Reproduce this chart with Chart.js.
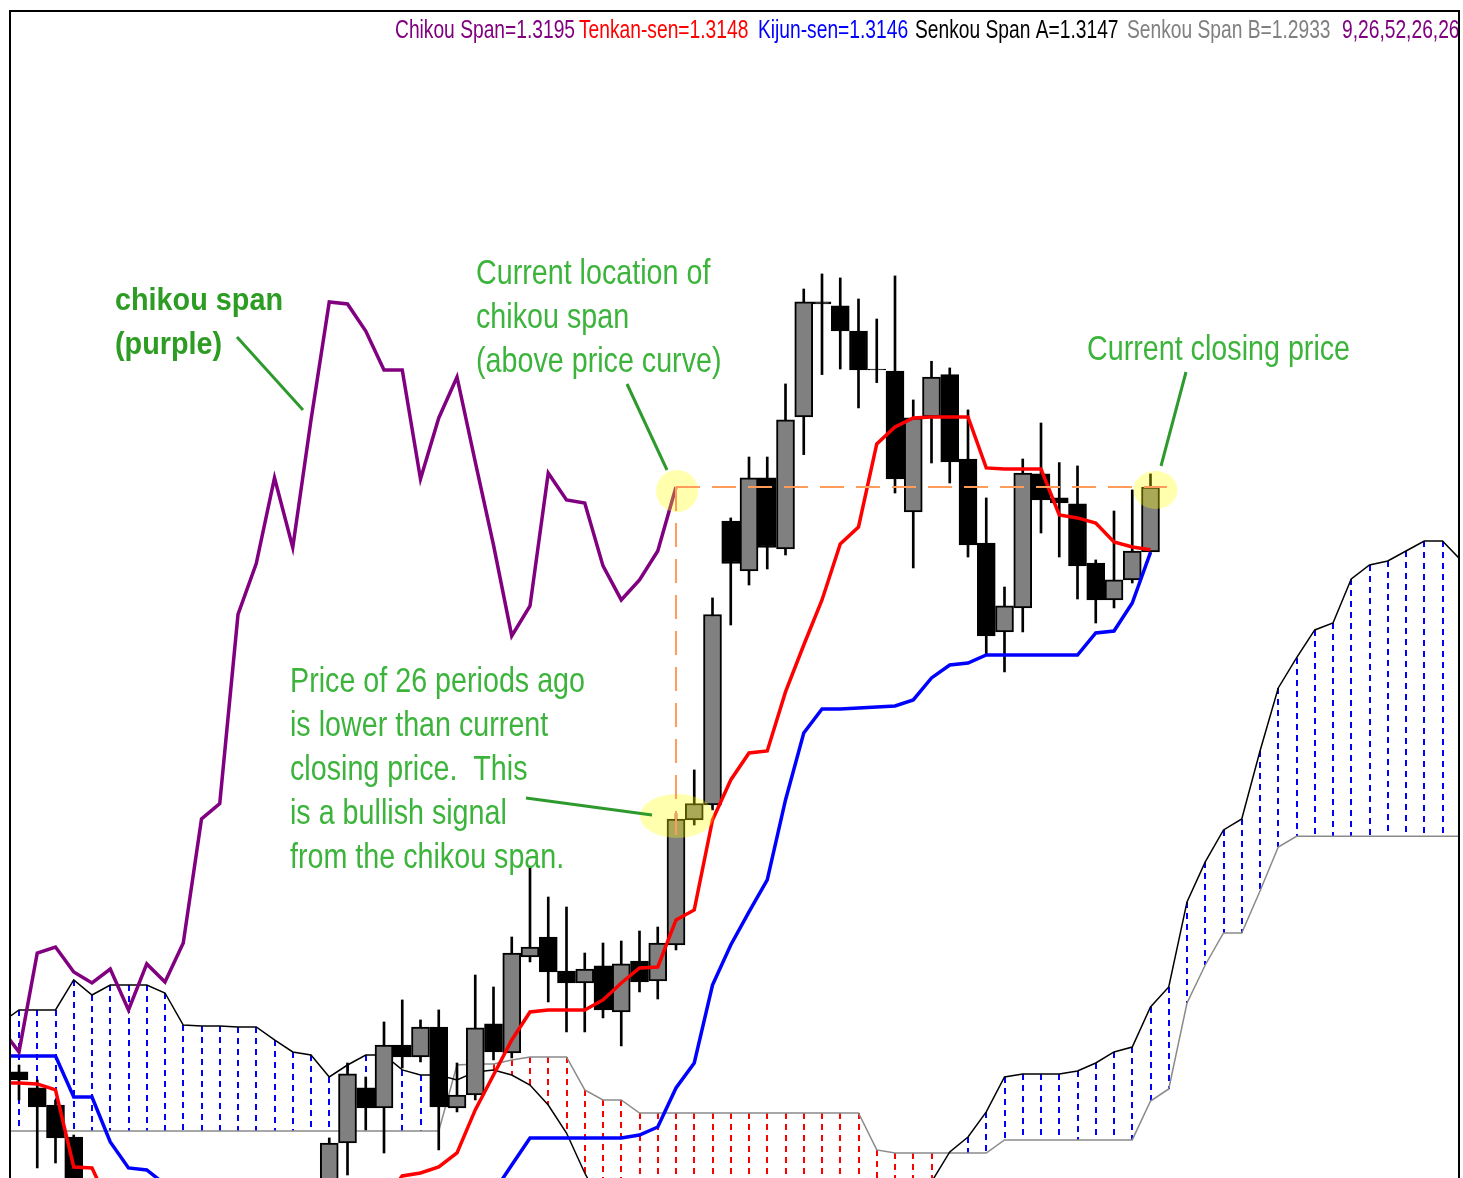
<!DOCTYPE html>
<html>
<head>
<meta charset="utf-8">
<script src="https://cdn.jsdelivr.net/npm/chart.js@4.4.1/dist/chart.umd.min.js"></script>
<style>
  html, body { margin: 0; padding: 0; background: #fff; }
  #wrap { width: 1463px; height: 1178px; }
</style>
</head>
<body>
<div id="wrap"><canvas id="chart1" width="1463" height="1178"></canvas></div>
<script>
// candles, bar 0 .. 62 (62 = current bar)
const opens = [
  1.27563, 1.27443, 1.27315, 1.27075, 1.2660, 1.2650, 1.2638, 1.2626, 1.2632, 1.2620,
  1.2630, 1.2615, 1.2633, 1.2645, 1.2637, 1.2652, 1.2660, 1.2664, 1.2703, 1.27443,
  1.27293, 1.27765, 1.27675, 1.2790, 1.27293, 1.2739, 1.27923, 1.27705, 1.28425, 1.28575,
  1.2832, 1.2823, 1.28358, 1.28013, 1.28395, 1.28245, 1.28515, 1.29453, 1.29565, 1.31695,
  1.3132, 1.32018, 1.31485, 1.32475, 1.33338, 1.33308, 1.3312, 1.32835, 1.3282, 1.31763,
  1.32475, 1.32793, 1.3216, 1.3153, 1.30863, 1.31043, 1.32048, 1.31868, 1.31823, 1.3138,
  1.31103, 1.31253, 1.31463
];
const highs = [
  1.27615, 1.27503, 1.27353, 1.2709, 1.2671, 1.2658, 1.2645, 1.2640, 1.2641, 1.2638,
  1.2635, 1.2640, 1.2652, 1.2653, 1.2660, 1.2668, 1.2672, 1.27068, 1.2763, 1.27525,
  1.27938, 1.28103, 1.27953, 1.28028, 1.2763, 1.2829, 1.2820, 1.28575, 1.2910, 1.28875,
  1.2880, 1.28455, 1.2853, 1.28545, 1.2862, 1.2865, 1.2950, 1.29828, 1.31118, 1.31718,
  1.32175, 1.32175, 1.32723, 1.33435, 1.33548, 1.33518, 1.3336, 1.3321, 1.33533, 1.32603,
  1.32893, 1.32843, 1.32528, 1.31868, 1.3120, 1.3216, 1.3243, 1.32133, 1.32108, 1.31403,
  1.3177, 1.31928, 1.32048
];
const lows = [
  1.27353, 1.26843, 1.2688, 1.26453, 1.2640, 1.2630, 1.2618, 1.2615, 1.2612, 1.2610,
  1.2608, 1.2612, 1.2625, 1.2628, 1.2632, 1.2644, 1.2650, 1.26603, 1.2679, 1.27128,
  1.26955, 1.27593, 1.27638, 1.26978, 1.27263, 1.27353, 1.27653, 1.27668, 1.28388, 1.28088,
  1.27863, 1.27863, 1.27968, 1.27758, 1.28163, 1.2811, 1.28478, 1.29415, 1.29528, 1.30915,
  1.31215, 1.31335, 1.3144, 1.32193, 1.32793, 1.32835, 1.32543, 1.32733, 1.31905, 1.31343,
  1.3213, 1.3198, 1.31425, 1.3069, 1.30563, 1.30863, 1.31605, 1.31425, 1.3111, 1.3093,
  1.31043, 1.3123, 1.3146
];
const closes = [
  1.27503, 1.2730, 1.27068, 1.26603, 1.2650, 1.2638, 1.2626, 1.2632, 1.2620, 1.2630,
  1.2615, 1.2633, 1.2645, 1.2637, 1.2652, 1.2660, 1.2668, 1.2703, 1.27548, 1.27293,
  1.27765, 1.27675, 1.2790, 1.2730, 1.2739, 1.27893, 1.27713, 1.28455, 1.2850, 1.28313,
  1.2823, 1.28335, 1.28028, 1.28373, 1.28238, 1.2853, 1.2946, 1.29576, 1.30994, 1.31376,
  1.32019, 1.31496, 1.32453, 1.33338, 1.33323, 1.3312, 1.32828, 1.32828, 1.3201, 1.32468,
  1.32775, 1.32138, 1.31515, 1.30833, 1.31058, 1.32055, 1.31853, 1.3183, 1.31358, 1.31103,
  1.31253, 1.3147, 1.3195
];

// indicator lines start one bar left of the first candle (bar -1)
const lineStart = -1;

// Tenkan-sen (9) and Kijun-sen (26), bar -1 .. 62
const tenkan = [
  1.2748,
  1.2748, 1.27473, 1.27428, 1.2685, 1.26843, 1.2655, 1.2648, 1.2645, 1.2645, 1.2645,
  1.2645, 1.2645, 1.2645, 1.2645, 1.2645, 1.2645, 1.2645, 1.2648, 1.2650, 1.2655,
  1.2660, 1.26783, 1.26805, 1.2685, 1.26955, 1.27278, 1.2754, 1.27803, 1.28013, 1.28028,
  1.28028, 1.28028, 1.28103, 1.2823, 1.28343, 1.2835, 1.28703, 1.28778, 1.29453, 1.29753,
  1.29955, 1.2997, 1.30413, 1.30765, 1.31103, 1.31523, 1.3165, 1.32273, 1.3240, 1.32468,
  1.32475, 1.32475, 1.32475, 1.32093, 1.32085, 1.32085, 1.32085, 1.3174, 1.31718, 1.3168,
  1.31538, 1.3150, 1.3148
];
const kijun = [
  1.27683,
  1.27683, 1.27683, 1.27683, 1.27375, 1.27375, 1.27038, 1.26843, 1.26828, 1.2672, 1.2655,
  1.2650, 1.2650, 1.2650, 1.2650, 1.2650, 1.2650, 1.2650, 1.2650, 1.2650, 1.2650,
  1.2650, 1.2650, 1.2650, 1.2650, 1.2650, 1.2650, 1.2666, 1.26865, 1.27068, 1.27068,
  1.27068, 1.27068, 1.27068, 1.27068, 1.2709, 1.2715, 1.27443, 1.2763, 1.28215, 1.28515,
  1.28763, 1.29003, 1.29603, 1.30105, 1.30285, 1.30285, 1.30293, 1.3030, 1.30308, 1.30353,
  1.30518, 1.30615, 1.3063, 1.3069, 1.3069, 1.3069, 1.3069, 1.3069, 1.3069, 1.30855,
  1.3087, 1.3108, 1.3146
];

// Chikou span: closes of bars 25 .. 62, drawn 26 bars back (bar -1 .. 36)
const chikou = [
  1.27893, 1.27713, 1.28455, 1.2850, 1.28313, 1.2823, 1.28335, 1.28028, 1.28373, 1.28238,
  1.2853, 1.2946, 1.29576, 1.30994, 1.31376, 1.32019, 1.31496, 1.32453, 1.33338, 1.33323,
  1.3312, 1.32828, 1.32828, 1.3201, 1.32468, 1.32775, 1.32138, 1.31515, 1.30833, 1.31058,
  1.32055, 1.31853, 1.3183, 1.31358, 1.31103, 1.31253, 1.3147, 1.3195
];

// Senkou spans as plotted (shifted 26 ahead), bar -1 .. 80
const senkouA = [
  1.2793,
  1.28028, 1.28028, 1.28028, 1.28253, 1.2814, 1.28215, 1.28215, 1.28215, 1.28155, 1.27915,
  1.27908, 1.27908, 1.2790, 1.2790, 1.27803, 1.27713, 1.2769, 1.27525, 1.27615, 1.2769,
  1.2769, 1.27578, 1.2754, 1.2754, 1.27503, 1.27563, 1.27578, 1.2754, 1.27465, 1.27315,
  1.27105, 1.26805, 1.2655, 1.2645, 1.2640, 1.2640, 1.2640, 1.2640, 1.2640, 1.2640,
  1.2640, 1.2640, 1.2640, 1.2640, 1.2640, 1.2640, 1.2640, 1.2640, 1.2640, 1.2650,
  1.26738, 1.26963, 1.27075, 1.27263, 1.27525, 1.27548, 1.27548, 1.27548, 1.2757, 1.2763,
  1.27713, 1.2775, 1.2805, 1.2820, 1.28838, 1.29138, 1.29378, 1.2946, 1.2997, 1.30443,
  1.30668, 1.30878, 1.3093, 1.3126, 1.31365, 1.31395, 1.3147, 1.31545, 1.31545, 1.31403,
  1.3129
];
const senkouB = [
  1.2712,
  1.2712, 1.2712, 1.2712, 1.2712, 1.2712, 1.2712, 1.2712, 1.2712, 1.2712, 1.2712,
  1.2712, 1.2712, 1.2712, 1.2712, 1.2712, 1.2712, 1.2712, 1.2712, 1.2712, 1.2712,
  1.2712, 1.2712, 1.2712, 1.2712, 1.27615, 1.27623, 1.27623, 1.27653, 1.27675, 1.27675,
  1.27675, 1.27428, 1.27353, 1.27353, 1.27255, 1.27255, 1.27255, 1.27255, 1.27255, 1.27255,
  1.27255, 1.27255, 1.27255, 1.27255, 1.27255, 1.27255, 1.27255, 1.26978, 1.26955, 1.26955,
  1.26955, 1.26955, 1.26955, 1.26955, 1.27053, 1.27053, 1.27053, 1.27053, 1.27053, 1.27053,
  1.27053, 1.27053, 1.27345, 1.27435, 1.2808, 1.28365, 1.28605, 1.28605, 1.2892, 1.2925,
  1.2933, 1.2933, 1.2933, 1.2933, 1.2933, 1.2933, 1.2933, 1.2933, 1.2933, 1.2933,
  1.2933
];

// visible window
const xMin = -0.4932, xMax = 78.904;
const yMin = 1.267675, yMax = 1.3552;

const lastBar = closes.length - 1;
const chikouStart = lastBar - 26 - (chikou.length - 1);
const pts = (arr, start) => arr.map((v, i) => ({ x: i + start, y: v }));

// cloud hatching: dashed verticals between the two senkou lines
const cloudHatch = {
  id: 'cloudHatch',
  beforeDatasetsDraw(chart) {
    const { ctx, chartArea: a, scales: { x, y } } = chart;
    ctx.save();
    ctx.beginPath();
    ctx.rect(a.left, a.top, a.width, a.height);
    ctx.clip();
    ctx.lineWidth = 2;
    ctx.setLineDash([6, 5]);
    senkouA.forEach((va, i) => {
      const vb = senkouB[i];
      const px = Math.round(x.getPixelForValue(i + lineStart));
      ctx.strokeStyle = va >= vb ? '#0000ff' : '#ff0000';
      ctx.beginPath();
      ctx.moveTo(px, y.getPixelForValue(Math.max(va, vb)));
      ctx.lineTo(px, y.getPixelForValue(Math.min(va, vb)));
      ctx.stroke();
    });
    ctx.restore();
  }
};

const greenText = '#3cb43c';
const greenBold = '#2c9c22';
const greenLine = '#2e9a2e';

const notes = [
  { text: 'Current location of', x: 476, y: 284 },
  { text: 'chikou span', x: 476, y: 328 },
  { text: '(above price curve)', x: 476, y: 372 },
  { text: 'Price of 26 periods ago', x: 290, y: 692 },
  { text: 'is lower than current', x: 290, y: 736 },
  { text: 'closing price.  This', x: 290, y: 780 },
  { text: 'is a bullish signal', x: 290, y: 824 },
  { text: 'from the chikou span.', x: 290, y: 868 },
  { text: 'Current closing price', x: 1087, y: 360 }
];
const boldNotes = [
  { text: 'chikou span', x: 115, y: 310 },
  { text: '(purple)', x: 115, y: 354 }
];
const pointers = [
  [237, 337, 303, 410],
  [627, 384, 667, 470],
  [526, 798, 652, 815],
  [1186, 372, 1161, 466]
];
const legendItems = [
  { text: 'Chikou Span=1.3195', color: '#800080', x: 395 },
  { text: 'Tenkan-sen=1.3148', color: '#ff0000', x: 579 },
  { text: 'Kijun-sen=1.3146', color: '#0000ff', x: 758 },
  { text: 'Senkou Span A=1.3147', color: '#000000', x: 915 },
  { text: 'Senkou Span B=1.2933', color: '#808080', x: 1127 },
  { text: '9,26,52,26,26', color: '#800080', x: 1342 }
];

function squeezed(ctx, str, x, y, sx) {
  ctx.save();
  ctx.translate(x, y);
  ctx.scale(sx, 1);
  ctx.fillText(str, 0, 0);
  ctx.restore();
}

const overlay = {
  id: 'overlay',
  afterDatasetsDraw(chart) {
    const { ctx, chartArea: a, scales: { x, y } } = chart;
    const nowPrice = chikou[chikou.length - 1];
    const backX = x.getPixelForValue(lastBar - 26);
    const nowY = y.getPixelForValue(nowPrice);
    const pastY = y.getPixelForValue(closes[lastBar - 26]);
    const lastX = x.getPixelForValue(lastBar);

    ctx.save();
    ctx.beginPath();
    ctx.rect(a.left, a.top, a.width, a.height);
    ctx.clip();

    // highlight spots
    ctx.fillStyle = 'rgba(255,255,0,0.32)';
    [[backX + 1, nowY + 4, 21, 21], [backX + 1, pastY - 3, 37, 22], [lastX + 5, nowY + 3, 22, 19]]
      .forEach(([cx, cy, rx, ry]) => {
        ctx.beginPath();
        ctx.ellipse(cx, cy, rx, ry, 0, 0, Math.PI * 2);
        ctx.fill();
      });

    // orange guide lines
    ctx.strokeStyle = '#ff9c5c';
    ctx.lineWidth = 2;
    ctx.setLineDash([24, 12]);
    ctx.beginPath();
    ctx.moveTo(backX, nowY);
    ctx.lineTo(x.getPixelForValue(lastBar + 0.9), nowY);
    ctx.moveTo(backX, nowY);
    ctx.lineTo(backX, pastY + 16);
    ctx.stroke();
    ctx.setLineDash([]);

    // green pointers
    ctx.strokeStyle = greenLine;
    ctx.lineWidth = 3;
    pointers.forEach(([x1, y1, x2, y2]) => {
      ctx.beginPath();
      ctx.moveTo(x1, y1);
      ctx.lineTo(x2, y2);
      ctx.stroke();
    });

    // annotation text
    ctx.textBaseline = 'alphabetic';
    ctx.fillStyle = greenText;
    ctx.font = '35px "Liberation Sans", Arial, sans-serif';
    const sx = 295 / ctx.measureText('Price of 26 periods ago').width;
    notes.forEach(n => squeezed(ctx, n.text, n.x, n.y, sx));

    ctx.fillStyle = greenBold;
    ctx.font = 'bold 31px "Liberation Sans", Arial, sans-serif';
    const sxb = 168 / ctx.measureText('chikou span').width;
    boldNotes.forEach(n => squeezed(ctx, n.text, n.x, n.y, sxb));

    // indicator values line
    ctx.font = '25px "Liberation Sans", Arial, sans-serif';
    const sxl = 180 / ctx.measureText(legendItems[0].text).width;
    legendItems.forEach(it => {
      ctx.fillStyle = it.color;
      squeezed(ctx, it.text, it.x, 38, sxl);
    });
    ctx.restore();

    // frame
    ctx.save();
    ctx.strokeStyle = '#000';
    ctx.lineWidth = 2;
    ctx.strokeRect(a.left, a.top, a.right - a.left, a.bottom - a.top + 10);
    ctx.restore();
  }
};

const ctx1 = document.getElementById('chart1');

new Chart(ctx1, {
  type: 'bar',
  data: {
    datasets: [
      {
        type: 'line',
        label: 'Chikou Span',
        data: pts(chikou, chikouStart),
        borderColor: '#800080',
        borderWidth: 3.5,
        pointRadius: 0,
        tension: 0,
        order: 0
      },
      {
        type: 'line',
        label: 'Tenkan-sen',
        data: pts(tenkan, lineStart),
        borderColor: '#ff0000',
        borderWidth: 3.5,
        pointRadius: 0,
        tension: 0,
        order: 1
      },
      {
        type: 'line',
        label: 'Kijun-sen',
        data: pts(kijun, lineStart),
        borderColor: '#0000ff',
        borderWidth: 3.5,
        pointRadius: 0,
        tension: 0,
        order: 2
      },
      {
        label: 'body',
        data: opens.map((o, i) => ({ x: i, y: [o, closes[i]] })),
        backgroundColor: opens.map((o, i) => (closes[i] >= o ? '#808080' : '#000000')),
        borderColor: '#000000',
        borderWidth: 2,
        borderSkipped: false,
        grouped: false,
        barThickness: 18,
        maxBarThickness: 18,
        order: 3
      },
      {
        label: 'wick',
        data: lows.map((l, i) => ({ x: i, y: [l, highs[i]] })),
        backgroundColor: '#000000',
        borderWidth: 0,
        grouped: false,
        barThickness: 2,
        maxBarThickness: 2,
        order: 4
      },
      {
        type: 'line',
        label: 'Senkou Span A',
        data: pts(senkouA, lineStart),
        borderColor: '#000000',
        borderWidth: 1.5,
        pointRadius: 0,
        tension: 0,
        order: 5
      },
      {
        type: 'line',
        label: 'Senkou Span B',
        data: pts(senkouB, lineStart),
        borderColor: '#8a8a8a',
        borderWidth: 1.5,
        pointRadius: 0,
        tension: 0,
        order: 6
      }
    ]
  },
  options: {
    responsive: false,
    animation: false,
    devicePixelRatio: 1,
    layout: { padding: { left: 10, top: 11, right: 4, bottom: 0 } },
    scales: {
      x: { type: 'linear', min: xMin, max: xMax, offset: false, display: false },
      y: { type: 'linear', min: yMin, max: yMax, beginAtZero: false, display: false }
    },
    plugins: {
      legend: { display: false },
      tooltip: { enabled: false },
      title: { display: false }
    }
  },
  plugins: [cloudHatch, overlay]
});
</script>
</body>
</html>
